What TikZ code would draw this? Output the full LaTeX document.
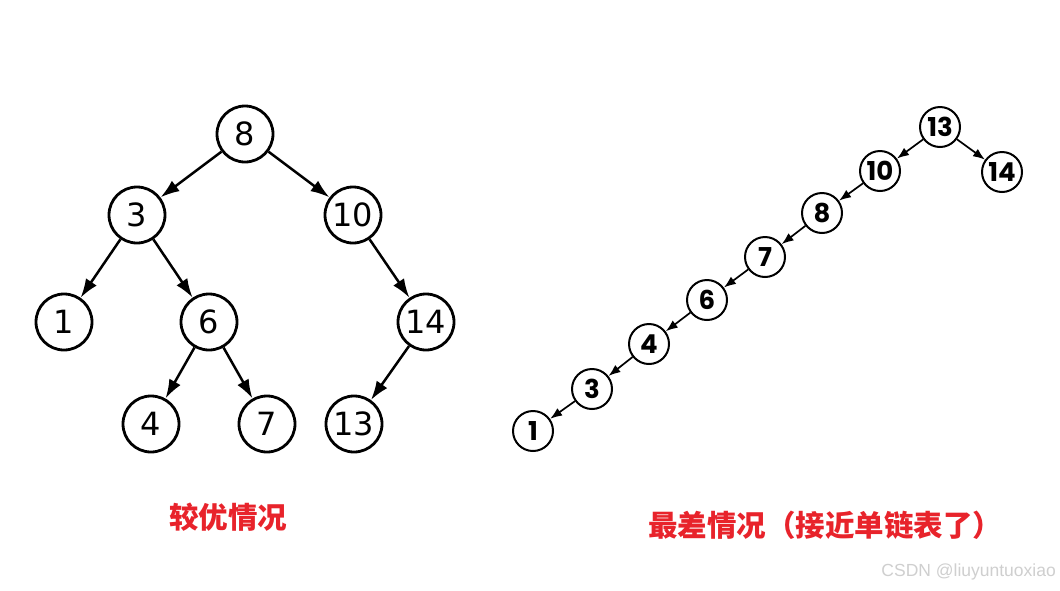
\documentclass[tikz,border=0pt]{standalone}
\usepackage{fontspec}
\usetikzlibrary{arrows.meta}
\newfontfamily\dejavu{DejaVu Sans}
\newfontfamily\popp{Poppins}
\newfontfamily\cjk{Noto Sans CJK SC}
\newfontfamily\wm{Liberation Sans}
\definecolor{lblred}{HTML}{E8232B}
\definecolor{wmgray}{HTML}{CFCFCF}
\tikzset{
  bignode/.style={circle, draw=black, line width=2.8pt, minimum size=56pt, inner sep=0pt, font=\dejavu\fontsize{32}{32}\selectfont},
  smallnode/.style={circle, draw=black, line width=2pt, minimum size=40pt, inner sep=0pt, font=\popp\bfseries\fontsize{26}{26}\selectfont},
  bigedge/.style={line width=2.5pt, -{Latex[length=19pt,width=13pt]}},
  smalledge/.style={line width=1.7pt, -{Latex[length=12pt,width=9pt]}},
  lbl/.style={text=lblred, font=\cjk\bfseries\fontsize{29.5}{29.5}\selectfont, inner sep=0pt}
}
\begin{document}
\begin{tikzpicture}[x=1pt,y=-1pt]
\useasboundingbox[fill=white] (0,0) rectangle (1060,590);
% left tree
\node[bignode] (a8) at (245,134) {8};
\node[bignode] (a3) at (137,215) {3};
\node[bignode] (a10) at (353,215) {10};
\node[bignode] (a1) at (64,322) {1};
\node[bignode] (a6) at (209,322) {6};
\node[bignode] (a14) at (426,322) {14};
\node[bignode] (a4) at (151,424) {4};
\node[bignode] (a7) at (267,424) {7};
\node[bignode] (a13) at (354,424) {13};
\draw[bigedge] (a8) -- (a3);
\draw[bigedge] (a8) -- (a10);
\draw[bigedge] (a3) -- (a1);
\draw[bigedge] (a3) -- (a6);
\draw[bigedge] (a10) -- (a14);
\draw[bigedge] (a6) -- (a4);
\draw[bigedge] (a6) -- (a7);
\draw[bigedge] (a14) -- (a13);
% right tree
\node[smallnode] (b13) at (940,127) {13};
\node[smallnode] (b10) at (880,171) {10};
\node[smallnode] (b14) at (1002,172) {14};
\node[smallnode] (b8) at (822,213) {8};
\node[smallnode] (b7) at (765,257) {7};
\node[smallnode] (b6) at (707,300) {6};
\node[smallnode] (b4) at (649,344) {4};
\node[smallnode] (b3) at (592,389) {3};
\node[smallnode] (b1) at (533,431) {1};
\draw[smalledge] (b13) -- (b10);
\draw[smalledge] (b13) -- (b14);
\draw[smalledge] (b10) -- (b8);
\draw[smalledge] (b8) -- (b7);
\draw[smalledge] (b7) -- (b6);
\draw[smalledge] (b6) -- (b4);
\draw[smalledge] (b4) -- (b3);
\draw[smalledge] (b3) -- (b1);
% labels
\node[lbl] (l1) at (228,517) {较优情况};
\node[lbl, anchor=west] (l2) at (648,525) {最差情况（接近单链表了）};
\node[text=wmgray, font=\wm\fontsize{17.5}{17.5}\selectfont, anchor=east, inner sep=0pt] (wm) at (1056,572) {CSDN @liuyuntuoxiao};
\end{tikzpicture}
\end{document}
